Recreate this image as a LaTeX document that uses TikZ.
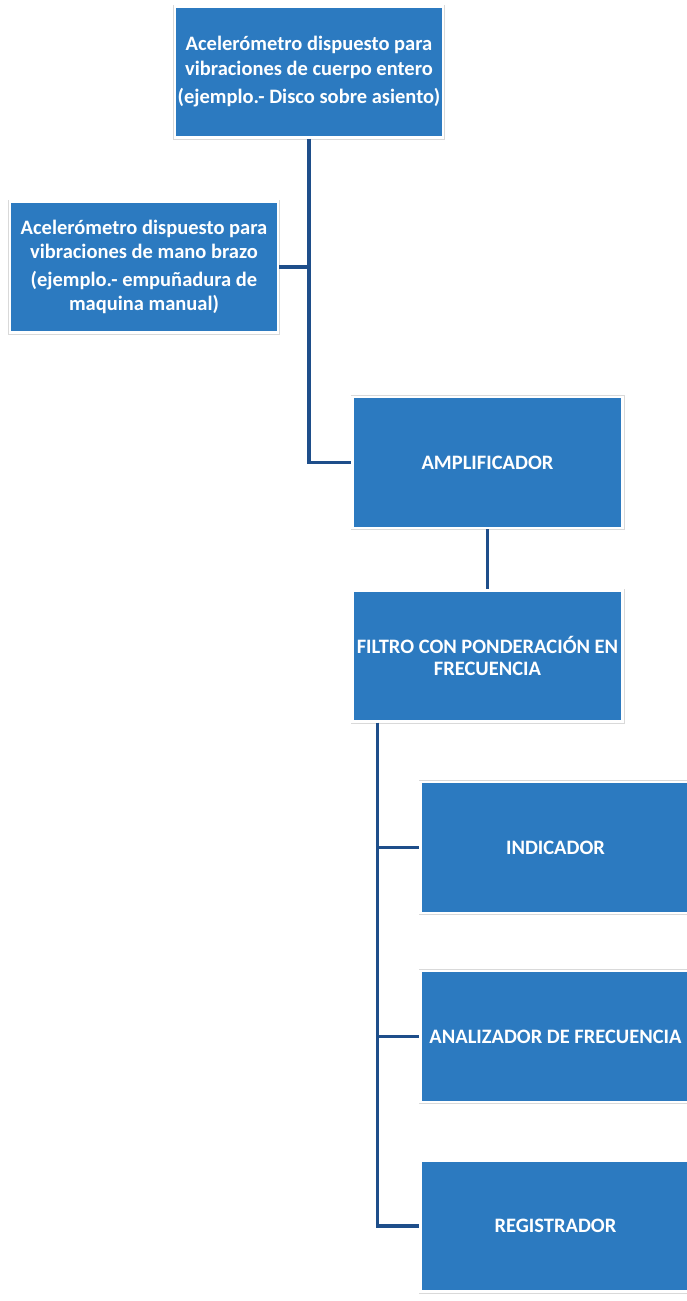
\documentclass[tikz,border=0pt]{standalone}
\usepackage{fontspec}
\setmainfont{Carlito}
\usetikzlibrary{calc}
\definecolor{boxblue}{RGB}{44,122,192}
\definecolor{linkblue}{RGB}{30,78,138}
\tikzset{
  bloque/.style={rectangle, fill=boxblue, text=white, align=center,
    font=\bfseries\fontsize{20.5}{24.5}\selectfont,
    minimum width=270pt, minimum height=131pt, inner sep=0pt,
    preaction={draw=black!15, line width=4pt},
    draw=white, line width=2.5pt},
  enlace/.style={draw=linkblue, line width=3.5pt}
}
\begin{document}
\begin{tikzpicture}[x=1pt, y=-1pt]
        \useasboundingbox (0,0) rectangle (687,1301);
        \clip (0,0) rectangle (687,1301);
        % cajas de los acelerometros
        \node[bloque, minimum width=268pt] (acccuerpo) at (309,72)
          {Acelerómetro dispuesto para\\vibraciones de cuerpo entero\\[4pt](ejemplo.- Disco sobre asiento)};
        \node[bloque, minimum width=268pt] (accmano) at (144,267)
          {Acelerómetro dispuesto para\\vibraciones de mano brazo\\[3pt](ejemplo.- empuñadura de\\maquina manual)};
        % cadena de medida
        \node[bloque] (amplif) at (487.5,462.5) {AMPLIFICADOR};
        \node[bloque, font=\bfseries\fontsize{20.5}{22}\selectfont] (filtro) at (487.5,656)
          {FILTRO CON PONDERACIÓN EN\\FRECUENCIA};
        % salidas
        \node[bloque] (indicador) at (555.5,847.5) {INDICADOR};
        \node[bloque] (analizador) at (555.5,1036.5) {ANALIZADOR DE FRECUENCIA};
        \node[bloque] (registrador) at (555.5,1226) {REGISTRADOR};
        % conexiones
        \draw[enlace] (acccuerpo.south) |- (amplif.west);
        \draw[enlace] (accmano.east) -- (accmano.east -| acccuerpo.south);
        \draw[enlace] (amplif.south) -- (filtro.north);
        \coordinate (bus) at ($(filtro.south west)+(26,0)$);
        \draw[enlace] (bus) |- (registrador.west);
        \draw[enlace] (bus) |- (indicador.west);
        \draw[enlace] (bus) |- (analizador.west);
\end{tikzpicture}
\end{document}
